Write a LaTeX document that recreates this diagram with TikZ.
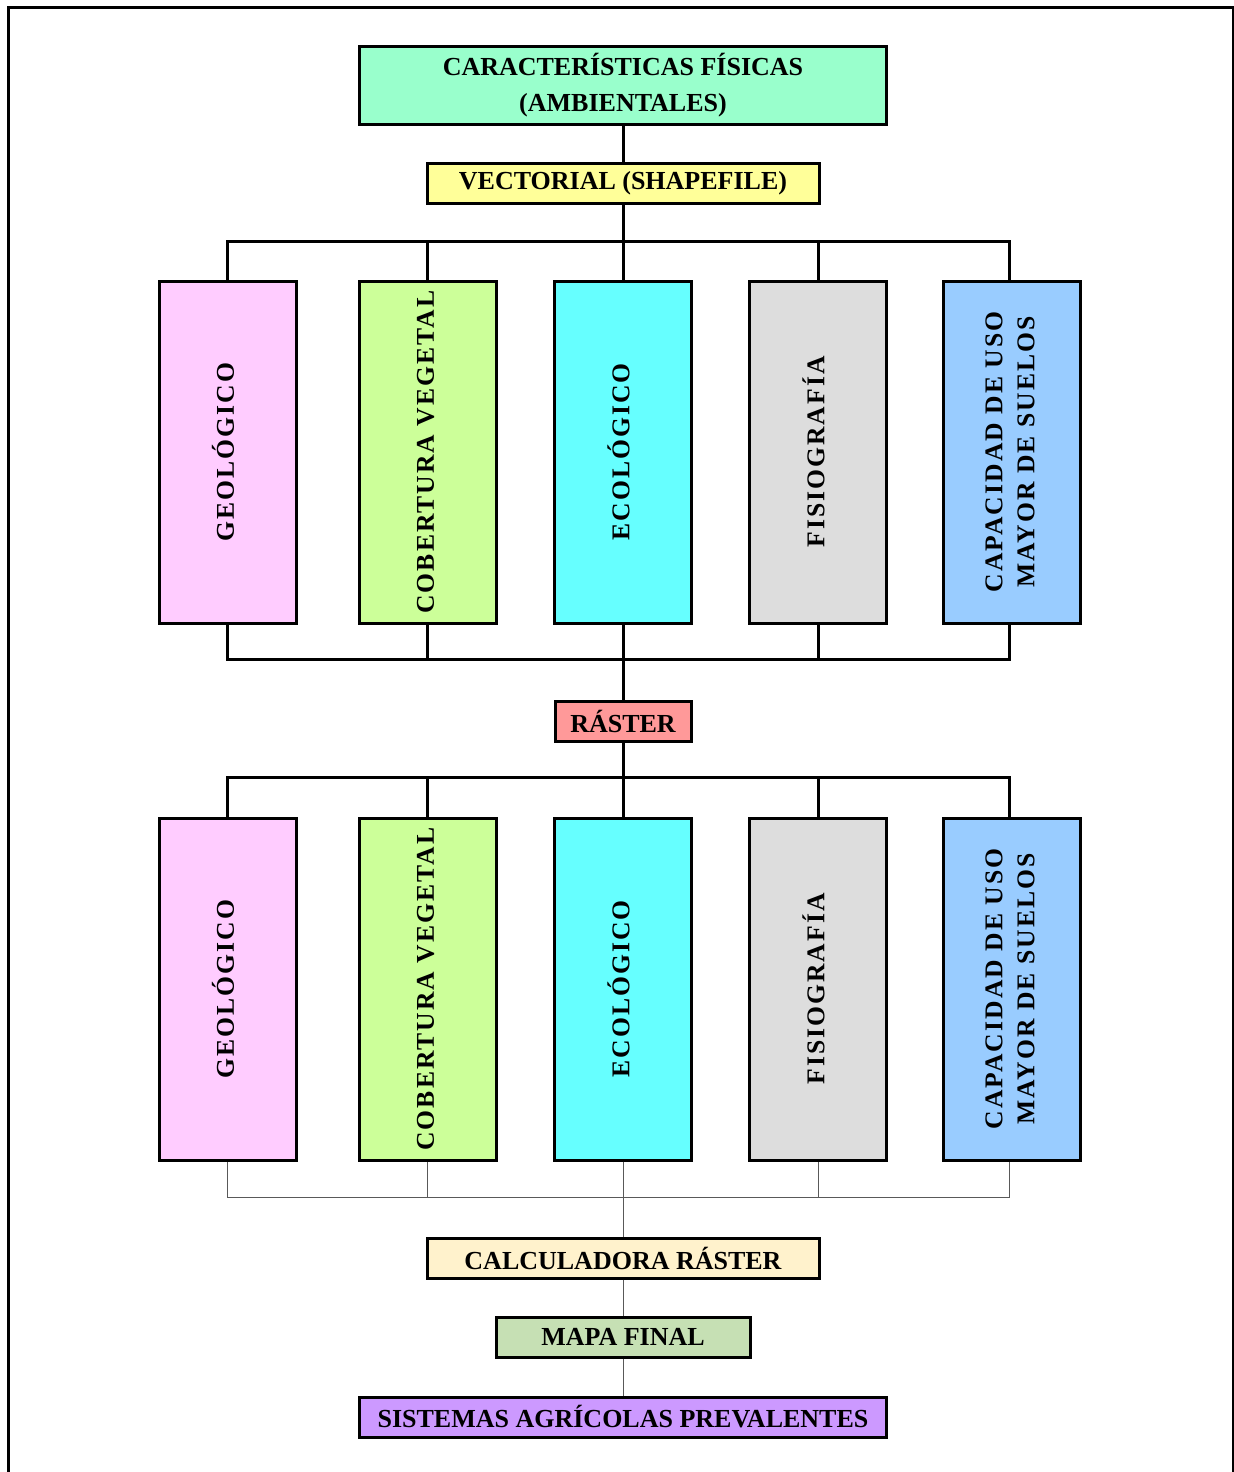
\documentclass[tikz,border=0pt]{standalone}
\usepackage{fontspec}
\setmainfont{Liberation Serif}
\usepackage{graphicx}

\definecolor{mintfill}{HTML}{99FFCC}
\definecolor{vecfill}{HTML}{FFFF99}
\definecolor{geofill}{HTML}{FFCCFF}
\definecolor{cobfill}{HTML}{CCFF99}
\definecolor{ecofill}{HTML}{66FFFF}
\definecolor{fisfill}{HTML}{DDDDDD}
\definecolor{capfill}{HTML}{99CCFF}
\definecolor{rasfill}{HTML}{FF9999}
\definecolor{calfill}{HTML}{FFF2CC}
\definecolor{mapfill}{HTML}{C6E0B4}
\definecolor{sisfill}{HTML}{CC99FF}

\newcommand{\vtext}[1]{\rotatebox{90}{\fontsize{12.8}{16}\selectfont\bfseries\addfontfeature{LetterSpace=8}\begin{tabular}{@{}c@{}}#1\end{tabular}}}

\tikzset{
  box/.style={draw, line width=1.5pt, inner sep=0pt, align=center,
    font=\fontsize{13}{18}\selectfont\bfseries},
  colbox/.style={box, minimum width=68.5pt, minimum height=171pt},
  flatbox/.style={box, minimum height=20pt},
  thickline/.style={line width=1.5pt},
  thinline/.style={line width=0.5pt, draw=black!65},
}

\begin{document}
\begin{tikzpicture}[x=0.5pt, y=-0.5pt]

  \useasboundingbox (0,0) rectangle (1234,1472);
  \draw[line width=1.5pt] (8,1472) -- (8,7) -- (1233,7) -- (1233,1472);

  % cabecera
  \node[box, fill=mintfill, minimum width=263.5pt, minimum height=39pt] (fis) at (623,85)
    {CARACTERÍSTICAS FÍSICAS\\(AMBIENTALES)};
  \node[flatbox, fill=vecfill, minimum width=196pt] (vec) at (623,183) {VECTORIAL (SHAPEFILE)};

  % capas vectoriales
  \node[colbox, fill=geofill] (geoA) at (227.5,452) {\vtext{GEOLÓGICO}};
  \node[colbox, fill=cobfill] (cobA) at (427.5,452) {\vtext{COBERTURA VEGETAL}};
  \node[colbox, fill=ecofill] (ecoA) at (623,452) {\vtext{ECOLÓGICO}};
  \node[colbox, fill=fisfill] (fisA) at (818,452) {\vtext{FISIOGRAFÍA}};
  \node[colbox, fill=capfill] (capA) at (1012,452) {\vtext{CAPACIDAD DE USO\\MAYOR DE SUELOS}};

  \node[flatbox, fill=rasfill, minimum width=68pt] (ras) at (623,721) {RÁSTER};

  % capas raster
  \node[colbox, fill=geofill] (geoB) at (227.5,989) {\vtext{GEOLÓGICO}};
  \node[colbox, fill=cobfill] (cobB) at (427.5,989) {\vtext{COBERTURA VEGETAL}};
  \node[colbox, fill=ecofill] (ecoB) at (623,989) {\vtext{ECOLÓGICO}};
  \node[colbox, fill=fisfill] (fisB) at (818,989) {\vtext{FISIOGRAFÍA}};
  \node[colbox, fill=capfill] (capB) at (1012,989) {\vtext{CAPACIDAD DE USO\\MAYOR DE SUELOS}};

  \node[flatbox, fill=calfill, minimum width=196pt] (cal) at (623,1258) {CALCULADORA RÁSTER};
  \node[flatbox, fill=mapfill, minimum width=127pt] (map) at (623,1337) {MAPA FINAL};
  \node[flatbox, fill=sisfill, minimum width=263.5pt] (sis) at (623,1417) {SISTEMAS AGRÍCOLAS PREVALENTES};

  \coordinate (barA) at (623,241);
  \coordinate (barB) at (623,659);
  \coordinate (barC) at (623,777);
  \coordinate (barD) at (623,1197);

  % conectores
  \draw[thickline] (fis) -- (vec);
  \draw[thickline] (vec) -- (ecoA);
  \draw[thickline] (barA) -| (geoA.north);
  \draw[thickline] (barA) -| (cobA.north);
  \draw[thickline] (barA) -| (fisA.north);
  \draw[thickline] (barA) -| ([xshift=-1.5pt]capA.north);
  \draw[thickline] (barB) -| (geoA.south);
  \draw[thickline] (barB) -| (cobA.south);
  \draw[thickline] (barB) -| (fisA.south);
  \draw[thickline] (barB) -| ([xshift=-1.5pt]capA.south);
  \draw[thickline] (ecoA) -- (ras);
  \draw[thickline] (ras) -- (ecoB);
  \draw[thickline] (barC) -| (geoB.north);
  \draw[thickline] (barC) -| (cobB.north);
  \draw[thickline] (barC) -| (fisB.north);
  \draw[thickline] (barC) -| ([xshift=-1.5pt]capB.north);
  \draw[thinline] (barD) -| (geoB.south);
  \draw[thinline] (barD) -| (cobB.south);
  \draw[thinline] (barD) -| (fisB.south);
  \draw[thinline] (barD) -| ([xshift=-1.5pt]capB.south);
  \draw[thinline] (ecoB) -- (cal);
  \draw[thinline] (cal) -- (map);
  \draw[thinline] (map) -- (sis);

\end{tikzpicture}
\end{document}
